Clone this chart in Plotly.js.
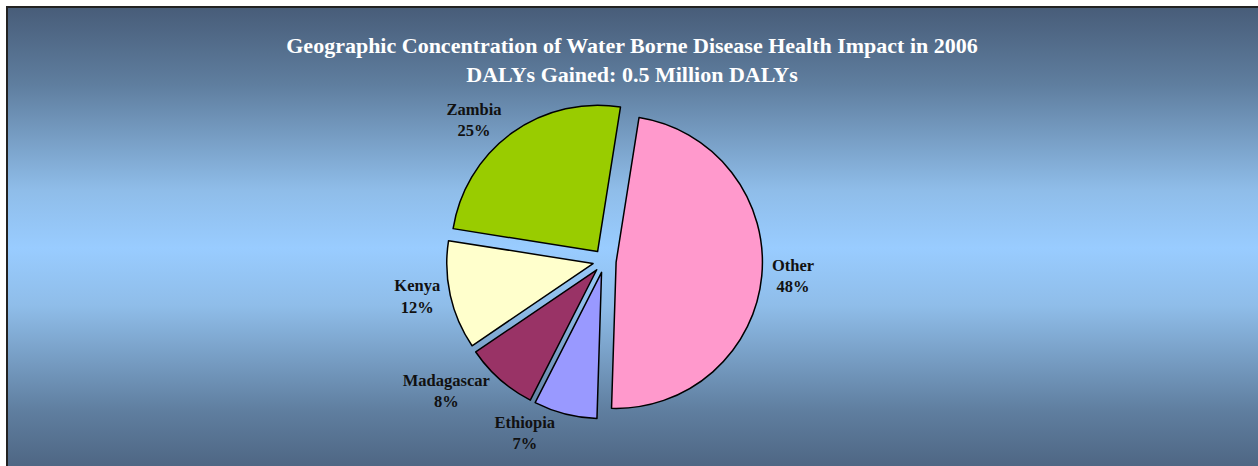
<!DOCTYPE html>
<html>
<head>
<meta charset="utf-8">
<script src="https://cdn.plot.ly/plotly-3.0.1.min.js"></script>
<style>
html,body{margin:0;padding:0;background:#fff;width:1258px;height:466px;overflow:hidden;}
#bg{position:absolute;left:6px;top:6px;width:1270px;height:480px;border-top:2px solid #222;border-left:2px solid #222;
background:linear-gradient(to bottom,#485d79 0%,#5f7e9f 16%,#8fbde9 38%,#99ccff 50%,#8fbde9 62%,#5f7e9f 84%,#485d79 100%);}
#chart{position:absolute;left:0;top:0;width:1258px;height:466px;}
</style>
</head>
<body>
<div id="bg"></div>
<div id="chart"></div>
<script>
var categories = ["Other", "Ethiopia", "Madagascar", "Kenya", "Zambia"];
var shares = [48, 7, 8, 12, 25];
var colors = ["#ff99cc", "#9999ff", "#993366", "#ffffcc", "#99cc00"];

var labelText = categories.map(function(c, i){ return "<b>" + c + "</b><br><b>" + shares[i] + "%</b>"; });

var trace = {
  type: "pie",
  labels: categories,
  values: shares,
  text: labelText,
  textinfo: "text",
  textposition: "outside",
  sort: false,
  direction: "clockwise",
  rotation: 9,
  pull: [0.08, 0.08, 0.08, 0.08, 0.08],
  marker: {colors: colors, line: {color: "#000", width: 1.5}},
  outsidetextfont: {family: "Liberation Serif, serif", size: 16.5, color: "#111"},
  hoverinfo: "label+percent",
  domain: {x: [0.2805, 0.6805], y: [0.1009, 0.779]},
  automargin: false
};

var layout = {
  width: 1258, height: 466,
  margin: {l: 0, r: 0, t: 0, b: 0},
  paper_bgcolor: "rgba(0,0,0,0)",
  plot_bgcolor: "rgba(0,0,0,0)",
  showlegend: false,
  title: {
    text: "<b>Geographic Concentration of Water Borne Disease Health Impact in 2006</b><br><b>DALYs Gained: 0.5 Million DALYs</b>",
    font: {family: "Liberation Serif, serif", size: 22, color: "#fff"},
    x: 0.5024, xanchor: "center", y: 0.886, yanchor: "middle"
  }
};

Plotly.newPlot("chart", [trace], layout, {displayModeBar: false});
</script>
</body>
</html>
